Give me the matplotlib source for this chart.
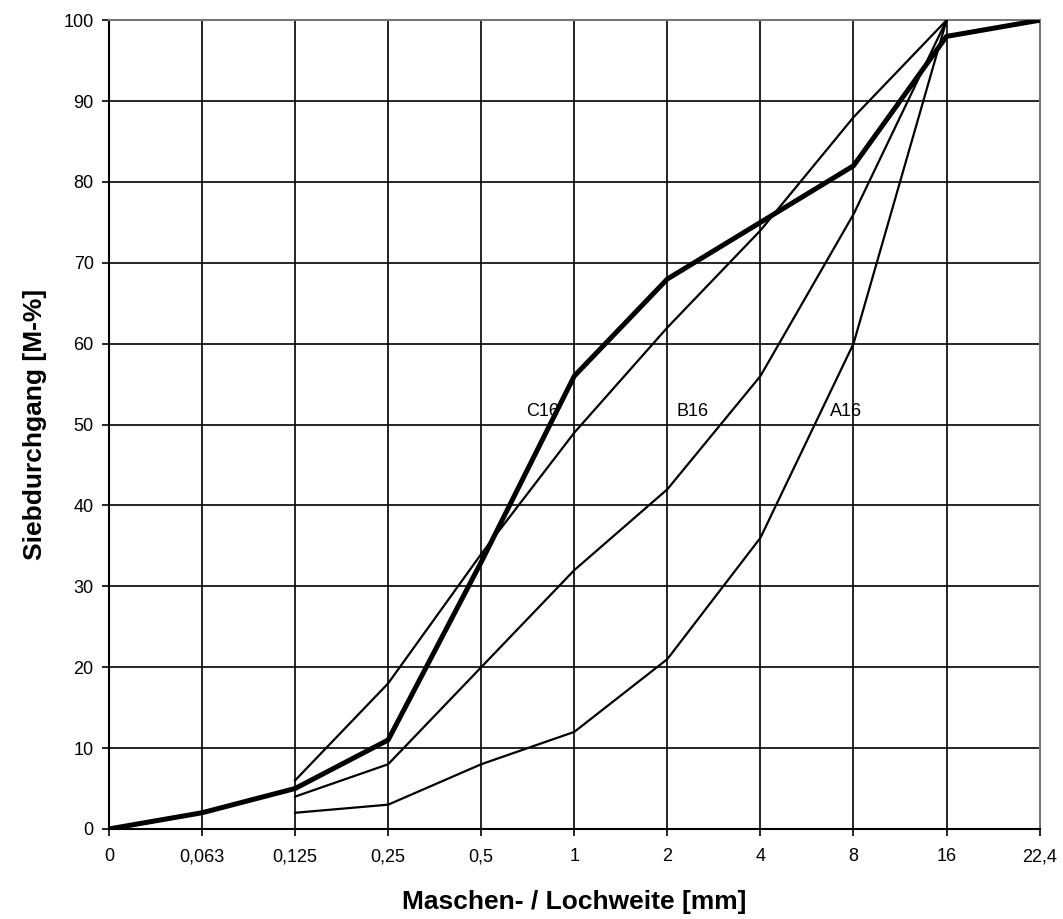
import matplotlib
matplotlib.use("Agg")
import matplotlib.pyplot as plt

plt.rcParams['font.family'] = ['Liberation Sans', 'DejaVu Sans']

sieve_labels = ["0", "0,063", "0,125", "0,25", "0,5", "1", "2", "4", "8", "16", "22,4"]

# gemessene Sieblinie (dicke Linie)
measured = [0, 2, 5, 11, 33, 56, 68, 75, 82, 98, 100]

# Grenzsieblinien ab 0,125 mm bis 16 mm
limit_start = 2
a16 = [2, 3, 8, 12, 21, 36, 60, 100]
b16 = [4, 8, 20, 32, 42, 56, 76, 100]
c16 = [6, 18, 34, 49, 62, 74, 88, 100]

curve_names = ["A16", "B16", "C16"]
label_pos = [(7.92, 51.6), (6.27, 51.6), (4.66, 51.6)]

fig = plt.figure(figsize=(10.63, 9.19), dpi=100)
ax = fig.add_axes([0.1025, 0.098, 0.8755, 0.88])

x_all = list(range(len(sieve_labels)))
x_lim = list(range(limit_start, limit_start + len(a16)))

for curve in (a16, b16, c16):
    ax.plot(x_lim, curve, color="black", lw=1.6, zorder=3)
ax.plot(x_all, measured, color="black", lw=3.6, zorder=4)

for name, (lx, ly) in zip(curve_names, label_pos):
    ax.text(lx, ly, name, fontsize=13, ha="center", va="center", zorder=5)

ax.set_xlim(0, len(sieve_labels) - 1)
ax.set_ylim(0, 100)
ax.set_xticks(x_all)
ax.set_xticklabels(sieve_labels)
ax.set_yticks(range(0, 101, 10))
ax.tick_params(labelsize=13, length=5, width=1.2, pad=6)
ax.tick_params(axis="x", pad=9)
ax.grid(True, color="black", lw=1.2)
for side in ("left", "bottom"):
    ax.spines[side].set_linewidth(1.5)
for side in ("top", "right"):
    ax.spines[side].set_color("#777777")
    ax.spines[side].set_linewidth(1.5)

ax.set_xlabel("Maschen- / Lochweite [mm]", fontsize=19, fontweight="bold", labelpad=18)
ax.set_ylabel("Siebdurchgang [M-%]", fontsize=19, fontweight="bold", labelpad=12)

fig.savefig("out.png", dpi=100)
